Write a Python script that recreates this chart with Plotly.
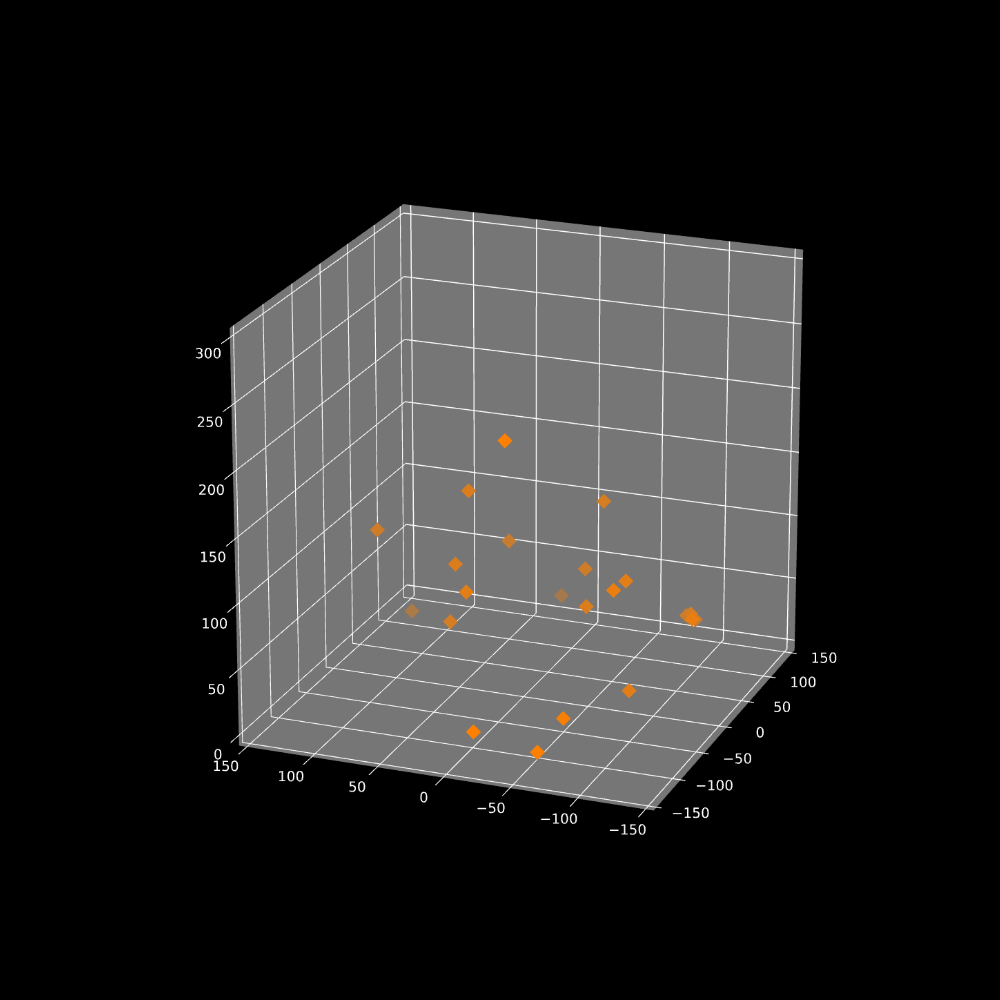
import math
import plotly.graph_objects as go

x_ticks = [-150, -100, -50, 0, 50, 100, 150]
y_ticks = [-150, -100, -50, 0, 50, 100, 150]
z_ticks = [0, 50, 100, 150, 200, 250, 300]

# values, depth guessed from how faded each marker is
xs = [-88, -36, -40, 7, 11, -57, -74, 21, -57, 6, 80, -32, -50, -30, -55, -123, -142, -129, -7, 7, 36, 38]
ys = [-20, 28, 97, 14, -57, 30, 15, 96, 34, -45, 1, -60, -87, -89, -101, -77, -65, -12, -131, -125, -112, -118]
zs = [224, 162, 124, 110, 149, 113, 100, 38, 68, 97, 42, 84, 107, 107, 34, 36, 16, 18, 75, 73, 59, 56]
fade = [1, .75, .65, .6, .7, .75, .8, .4, .7, .65, .35, .75, .85, .8, .8, .95, 1, 1, .85, .7, .6, .6]

# far camera gives the weak perspective of the reference, the big canvas brings the size back
SIZE = 3975
elev = math.radians(20.4)
azim = math.radians(201.1)
dist = 11
eye = dict(x=dist * math.cos(elev) * math.cos(azim),
           y=dist * math.cos(elev) * math.sin(azim),
           z=dist * math.sin(elev))


def axis(ticks, rng, ticklen):
    return dict(range=rng, tickvals=ticks, ticktext=[str(t).replace('-', '\u2212') for t in ticks],
                title='', showbackground=True, backgroundcolor='#767676',
                gridcolor='white', gridwidth=1.5, zeroline=False, showline=False, tickangle=0,
                ticks='outside', ticklen=ticklen, tickwidth=1.5, tickcolor='white',
                tickfont=dict(color='white', size=11, family='DejaVu Sans'))


# rgba markers come out too bright in webgl, so mix the fade over the pane colour here
def shade(a):
    return 'rgb(%d,%d,%d)' % (255 * a + 118 * (1 - a), 128 * a + 118 * (1 - a), 118 * (1 - a))


colors = [shade(a) for a in fade]
fig = go.Figure(go.Scatter3d(x=xs, y=ys, z=zs, mode='markers',
                             marker=dict(symbol='diamond', size=3.6, color=colors)))
fig.update_layout(width=SIZE, height=SIZE, paper_bgcolor='black', showlegend=False,
                  margin=dict(l=0, r=0, t=0, b=0),
                  scene=dict(bgcolor='black', aspectmode='cube',
                             xaxis=axis(x_ticks, [-156, 156], 12),
                             yaxis=axis(y_ticks, [-156, 156], 3),
                             zaxis=axis(z_ticks, [-8, 307], 7),
                             camera=dict(eye=eye, up=dict(x=0, y=0, z=1))))

# put the middle of the big canvas where the reference has the middle of its box
shift = """
document.body.style.margin = '0';
document.body.style.overflow = 'hidden';
document.documentElement.style.background = 'black';
var gd = document.querySelector('.plotly-graph-div');
gd.style.position = 'absolute';
gd.style.left = (523 - %d / 2) + 'px';
gd.style.top = (495 - %d / 2) + 'px';
""" % (SIZE, SIZE)
fig.write_html("out.html", post_script=shift)
